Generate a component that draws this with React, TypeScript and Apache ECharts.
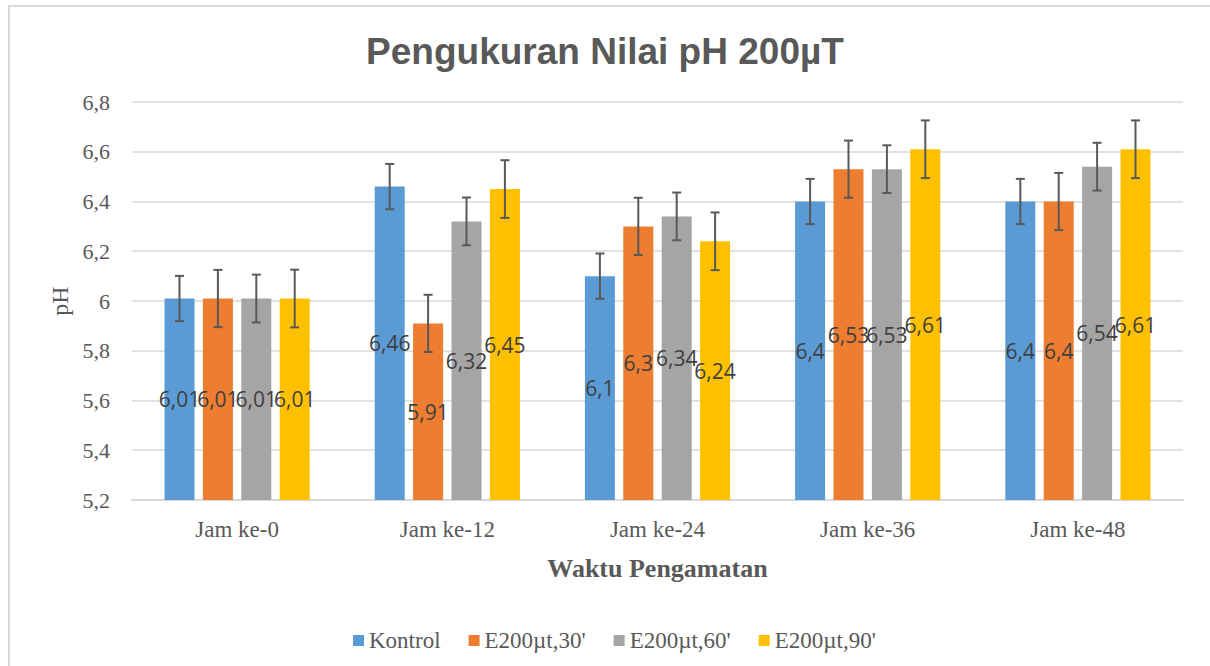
import React, { useEffect, useRef } from "react";
import * as echarts from "echarts";

const categories = ["Jam ke-0", "Jam ke-12", "Jam ke-24", "Jam ke-36", "Jam ke-48"];
const seriesNames = ["Kontrol", "E200µt,30'", "E200µt,60'", "E200µt,90'"];
const kontrol = [6.01, 6.46, 6.1, 6.4, 6.4];
const e30 = [6.01, 5.91, 6.3, 6.53, 6.4];
const e60 = [6.01, 6.32, 6.34, 6.53, 6.54];
const e90 = [6.01, 6.45, 6.24, 6.61, 6.61];
const seriesValues = [kontrol, e30, e60, e90];
// error bar half-lengths (one per series)
const errKontrol = [0.091, 0.091, 0.091, 0.091, 0.091];
const errE30 = [0.115, 0.115, 0.115, 0.115, 0.115];
const errE60 = [0.096, 0.096, 0.096, 0.096, 0.096];
const errE90 = [0.116, 0.116, 0.116, 0.116, 0.116];
const seriesErrors = [errKontrol, errE30, errE60, errE90];
const colors = ["#5B9BD5", "#ED7D31", "#A5A5A5", "#FFC000"];

const BAR_W = 30;
const BAR_GAP = 0.28;

export default function App() {
  const ref = useRef<HTMLDivElement>(null);
  useEffect(() => {
    if (!ref.current) return;
    const chart = echarts.init(ref.current, null, { renderer: "svg" });
    const serif = "Liberation Serif";
    const barSeries = seriesValues.map((vals, i) => ({
      name: seriesNames[i],
      type: "bar",
      data: vals,
      barWidth: BAR_W,
      barGap: BAR_GAP * 100 + "%",
      itemStyle: { color: colors[i] },
      label: {
        show: true,
        position: "inside",
        color: "#404040",
        fontFamily: "Open Sans",
        fontSize: 21,
        formatter: (p: any) => String(p.value).replace(".", ","),
      },
      z: 2,
    }));
    const errSeries = seriesValues.map((vals, i) => ({
      name: "err" + i,
      type: "custom",
      z: 5,
      silent: true,
      data: vals.map((v, k) => [k, v - seriesErrors[i][k], v + seriesErrors[i][k]]),
      renderItem: (params: any, api: any) => {
        const idx = api.value(0);
        const lo = api.value(1);
        const hi = api.value(2);
        const p1 = api.coord([idx, hi]);
        const p2 = api.coord([idx, lo]);
        const off = (i - 1.5) * BAR_W * (1 + BAR_GAP);
        const x = p1[0] + off;
        const st = { stroke: "#595959", lineWidth: 2 };
        const cw = 4.5;
        return {
          type: "group",
          children: [
            { type: "line", shape: { x1: x, y1: p1[1], x2: x, y2: p2[1] }, style: st },
            { type: "line", shape: { x1: x - cw, y1: p1[1], x2: x + cw, y2: p1[1] }, style: st },
            { type: "line", shape: { x1: x - cw, y1: p2[1], x2: x + cw, y2: p2[1] }, style: st },
          ],
        };
      },
    }));
    chart.setOption({
      animation: false,
      backgroundColor: "#ffffff",
      title: {
        text: "Pengukuran Nilai pH 200µT",
        left: "center",
        top: 28,
        textStyle: {
          fontFamily: "Liberation Sans",
          fontWeight: "bold",
          fontSize: 37,
          color: "#595959",
        },
      },
      graphic: [
        {
          type: "rect",
          shape: { x: 9, y: 6, width: 1400, height: 900 },
          style: { fill: "none", stroke: "#d9d9d9", lineWidth: 2 },
          silent: true,
          z: 0,
        },
      ],
      legend: {
        data: seriesNames,
        left: 348,
        top: 624,
        icon: "rect",
        itemWidth: 11,
        itemHeight: 11,
        itemGap: 28,
        textStyle: { fontFamily: serif, fontSize: 23, color: "#595959" },
      },
      grid: { left: 132, right: 27, top: 102, bottom: 166 },
      xAxis: {
        type: "category",
        data: categories,
        name: "Waktu Pengamatan",
        nameLocation: "middle",
        nameGap: 55,
        nameTextStyle: { fontFamily: serif, fontWeight: "bold", fontSize: 26, color: "#595959" },
        axisLine: { lineStyle: { color: "#d9d9d9", width: 2 } },
        axisTick: { show: false },
        axisLabel: { fontFamily: serif, fontSize: 23, color: "#595959", margin: 18 },
      },
      yAxis: {
        type: "value",
        min: 5.2,
        max: 6.8,
        interval: 0.2,
        name: "pH",
        nameLocation: "middle",
        nameGap: 58,
        nameRotate: 90,
        nameTextStyle: { fontFamily: serif, fontSize: 24, color: "#595959" },
        axisLine: { show: false },
        axisTick: { show: false },
        splitLine: { lineStyle: { color: "#d9d9d9", width: 1.5 } },
        axisLabel: {
          fontFamily: serif,
          fontSize: 22,
          color: "#595959",
          margin: 22,
          formatter: (v: number) => String(Math.round(v * 10) / 10).replace(".", ","),
        },
      },
      series: [...barSeries, ...errSeries],
    });
    return () => chart.dispose();
  }, []);
  return (
    <div
      ref={ref}
      style={{ position: "absolute", left: 0, top: 0, width: 1210, height: 666 }}
    />
  );
}
